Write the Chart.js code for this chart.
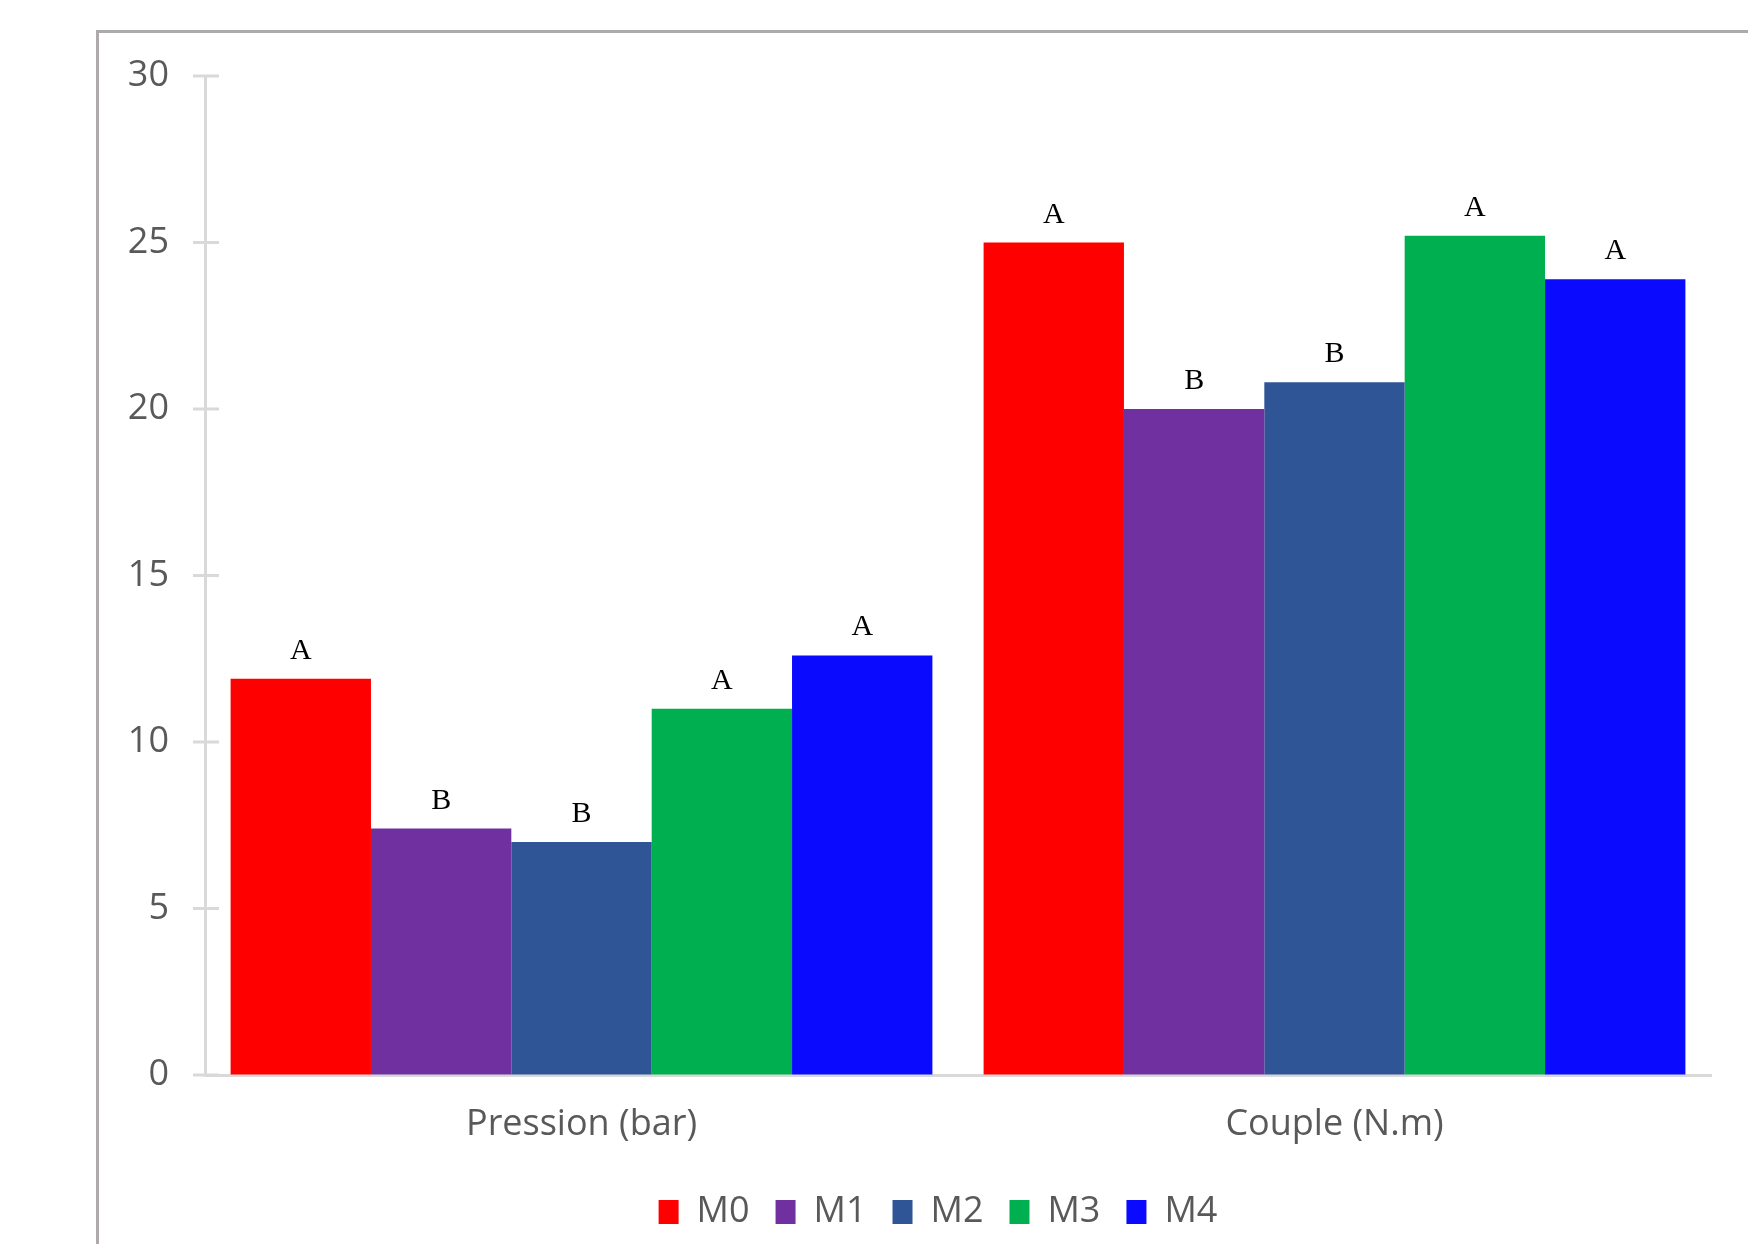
<!DOCTYPE html>
<html lang="fr">
<head>
  <meta charset="UTF-8" />
  <title>Pression / Couple</title>
  <script src="https://cdn.jsdelivr.net/npm/chart.js"></script>
  <style>
    body { margin: 0; background: #fff; overflow: hidden; }
    /* grey frame, only top and left edges are visible */
    .frame {
      position: absolute; left: 96px; top: 30px;
      width: 2000px; height: 2000px;
      border-top: 3px solid #aeaaaa; border-left: 3px solid #aeaaaa;
    }
    #wrap { position: absolute; left: 0; top: 0; width: 1748px; height: 1244px; }
  </style>
</head>
<body>
  <div class="frame"></div>
  <div id="wrap"><canvas id="chart"></canvas></div>

  <script>
    // categories and series
    const categories = ['Pression (bar)', 'Couple (N.m)'];
    const seriesNames = ['M0', 'M1', 'M2', 'M3', 'M4'];
    const seriesColors = ['#ff0000', '#7030a0', '#2f5597', '#00b050', '#0a0aff'];

    const m0 = [11.9, 25.0];
    const m1 = [7.4, 20.0];
    const m2 = [7.0, 20.8];
    const m3 = [11.0, 25.2];
    const m4 = [12.6, 23.9];

    // significance letters above each bar
    const letters0 = ['A', 'A'];
    const letters1 = ['B', 'B'];
    const letters2 = ['B', 'B'];
    const letters3 = ['A', 'A'];
    const letters4 = ['A', 'A'];

    const yTicks = [0, 5, 10, 15, 20, 25, 30];

    const values = [m0, m1, m2, m3, m4];
    const letters = [letters0, letters1, letters2, letters3, letters4];

    const grey = '#595959';
    const axisGrey = '#d9d9d9';
    const labelFont = { family: "'Open Sans', sans-serif", size: 36 };

    // Excel style "cross" tick marks on the value axis
    const crossTicks = {
      id: 'crossTicks',
      afterDraw(chart) {
        const y = chart.scales.y, ctx = chart.ctx, left = chart.chartArea.left;
        ctx.save();
        ctx.strokeStyle = axisGrey;
        ctx.lineWidth = 3;
        y.ticks.forEach(t => {
          const py = y.getPixelForValue(t.value);
          ctx.beginPath();
          ctx.moveTo(left - 12, py);
          ctx.lineTo(left + 14, py);
          ctx.stroke();
        });
        ctx.restore();
      }
    };

    // nudge the legend a bit to the left, like the original
    const legendShift = {
      id: 'legendShift',
      afterLayout(chart) {
        chart.legend.left -= 20;
        chart.legend.right -= 20;
      }
    };

    // letters over the bars
    const barLetters = {
      id: 'barLetters',
      afterDatasetsDraw(chart) {
        const ctx = chart.ctx;
        ctx.save();
        ctx.font = "30px 'Liberation Serif', serif";
        ctx.fillStyle = '#000';
        ctx.textAlign = 'center';
        ctx.textBaseline = 'alphabetic';
        chart.data.datasets.forEach((ds, i) => {
          chart.getDatasetMeta(i).data.forEach((bar, j) => {
            ctx.fillText(letters[i][j], bar.x, bar.y - 20);
          });
        });
        ctx.restore();
      }
    };

    new Chart(document.getElementById('chart'), {
      type: 'bar',
      data: {
        labels: categories,
        datasets: seriesNames.map((name, i) => ({
          label: name,
          data: values[i],
          backgroundColor: seriesColors[i],
          borderWidth: 0,
          barPercentage: 1,
          categoryPercentage: 0.932
        }))
      },
      options: {
        responsive: true,
        maintainAspectRatio: false,
        animation: false,
        layout: { padding: { top: 76, right: 37, bottom: 4, left: 0 } },
        plugins: {
          tooltip: { enabled: false },
          legend: {
            position: 'bottom',
            fullSize: false,
            labels: {
              boxWidth: 20,
              boxHeight: 24,
              padding: 26,
              color: grey,
              font: labelFont
            }
          }
        },
        scales: {
          x: {
            grid: { display: false },
            border: { color: axisGrey, width: 3 },
            ticks: { color: grey, font: labelFont, padding: 20 },
            afterFit: s => { s.height = 93; }
          },
          y: {
            min: 0,
            max: 30,
            afterBuildTicks: s => { s.ticks = yTicks.map(v => ({ value: v })); },
            grid: { drawOnChartArea: false, drawTicks: false },
            border: { color: axisGrey, width: 3 },
            ticks: { color: grey, font: labelFont, padding: 36 },
            afterFit: s => { s.width = 205; }
          }
        }
      },
      plugins: [crossTicks, legendShift, barLetters]
    });
  </script>
</body>
</html>
